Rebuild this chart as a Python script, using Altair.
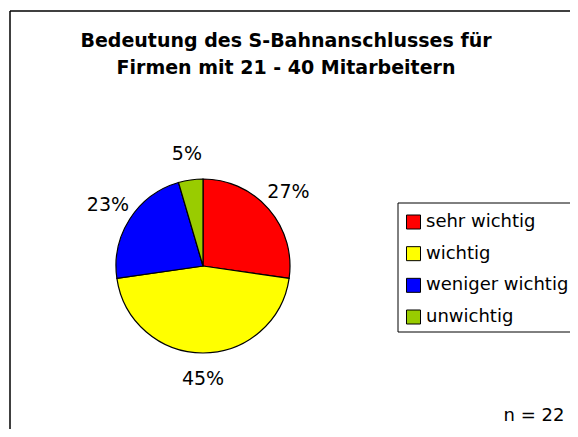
import altair as alt
import pandas as pd

categories = ["sehr wichtig", "wichtig", "weniger wichtig", "unwichtig"]
counts = [6, 10, 5, 1]
pct_labels = ["27%", "45%", "23%", "5%"]
colors = ["#FF0000", "#FFFF00", "#0000FF", "#99CC00"]
title_lines = ["Bedeutung des S-Bahnanschlusses für", "Firmen mit 21 - 40 Mitarbeitern"]
note = ["n = 22"]

FONT = "DejaVu Sans"

df = pd.DataFrame({
    "cat": categories,
    "value": counts,
    "label": pct_labels,
    "idx": list(range(len(categories))),
})

color_scale = alt.Scale(domain=categories, range=colors)
base = alt.Chart(df)
one = alt.Chart(pd.DataFrame({"a": [0]}))

W, H = 562, 421

frame_top = one.mark_rule(color="black", strokeWidth=1.5).encode(
    x=alt.value(2), x2=alt.value(W), y=alt.value(3))
frame_left = one.mark_rule(color="black", strokeWidth=1.5).encode(
    x=alt.value(2), y=alt.value(3), y2=alt.value(H))

pie = base.mark_arc(outerRadius=87, stroke="black", strokeWidth=1.2).encode(
    theta=alt.Theta("value:Q", stack=True),
    color=alt.Color("cat:N", scale=color_scale, legend=None),
    order=alt.Order("idx:Q"),
    x=alt.value(195), y=alt.value(258),
)

pie_labels = base.mark_text(radius=113, font=FONT, fontSize=19, color="black").encode(
    theta=alt.Theta("value:Q", stack=True),
    order=alt.Order("idx:Q"),
    text="label:N",
    x=alt.value(195), y=alt.value(258),
)

title1 = alt.Chart(pd.DataFrame({"t": [title_lines[0]]})).mark_text(
    font=FONT, fontSize=19, fontWeight="bold", align="center", baseline="alphabetic"
).encode(text="t:N", x=alt.value(278), y=alt.value(39))
title2 = alt.Chart(pd.DataFrame({"t": [title_lines[1]]})).mark_text(
    font=FONT, fontSize=19, fontWeight="bold", align="center", baseline="alphabetic"
).encode(text="t:N", x=alt.value(278), y=alt.value(66))

leg_top = one.mark_rule(color="black", strokeWidth=1).encode(
    x=alt.value(390), x2=alt.value(W), y=alt.value(195))
leg_bottom = one.mark_rule(color="black", strokeWidth=1).encode(
    x=alt.value(390), x2=alt.value(W), y=alt.value(324))
leg_left = one.mark_rule(color="black", strokeWidth=1).encode(
    x=alt.value(390), y=alt.value(195), y2=alt.value(324))

yleg = alt.Y("cat:N", scale=alt.Scale(type="point", domain=categories, range=[214, 309], padding=0), axis=None)

legend_sym = base.mark_square(size=196, stroke="black", strokeWidth=1, opacity=1).encode(
    x=alt.value(405.5),
    y=yleg,
    color=alt.Color("cat:N", scale=color_scale, legend=None),
)
legend_txt = base.mark_text(font=FONT, fontSize=18, align="left", baseline="middle").encode(
    x=alt.value(418), y=yleg, text="cat:N"
)

n_txt = alt.Chart(pd.DataFrame({"t": note})).mark_text(
    font=FONT, fontSize=18, align="center", baseline="alphabetic"
).encode(text="t:N", x=alt.value(526), y=alt.value(413))

chart = alt.layer(
    frame_top, frame_left, pie, pie_labels, title1, title2,
    leg_top, leg_bottom, leg_left, legend_sym, legend_txt, n_txt
).properties(
    width=W, height=H, autosize=alt.AutoSizeParams(type="none"), padding=0
).configure_view(stroke=None).configure_axis(domain=False)

chart.save("out.html", embed_options={"renderer": "svg", "actions": False})
